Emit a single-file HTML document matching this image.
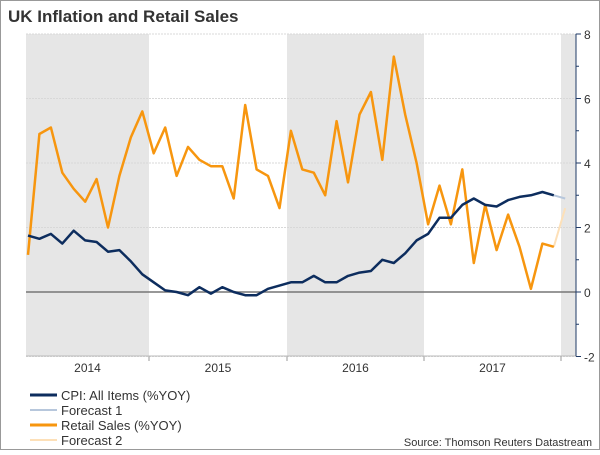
<!DOCTYPE html>
<html><head><meta charset="utf-8"><style>
body{margin:0;background:#fff}
svg text{font-family:"Liberation Sans",sans-serif}
</style></head><body>
<svg width="600" height="450" xmlns="http://www.w3.org/2000/svg">
<rect x="0.5" y="0.5" width="599" height="449" fill="#fff" stroke="#999"/>
<text x="8" y="22" font-size="17" font-weight="bold" fill="#333">UK Inflation and Retail Sales</text>
<g id="shades"></g>
<g id="grid"></g>
<g id="axis"></g>
<g id="series"></g>
<g>
<line x1="30" y1="395" x2="57" y2="395" stroke="#0d2d5e" stroke-width="3"/>
<text x="61" y="400" font-size="13" fill="#333">CPI: All Items (%YOY)</text>
<line x1="30" y1="410" x2="57" y2="410" stroke="#b7c7dc" stroke-width="2"/>
<text x="61" y="415" font-size="13" fill="#333">Forecast 1</text>
<line x1="30" y1="425" x2="57" y2="425" stroke="#f7960f" stroke-width="3"/>
<text x="61" y="430" font-size="13" fill="#333">Retail Sales (%YOY)</text>
<line x1="30" y1="440" x2="57" y2="440" stroke="#fde0b8" stroke-width="2"/>
<text x="61" y="445" font-size="13" fill="#333">Forecast 2</text>
</g>
<text x="592" y="446" font-size="11" fill="#333" text-anchor="end">Source: Thomson Reuters Datastream</text>
</svg>
<script>
const cpi=[1.75,1.65,1.8,1.5,1.9,1.6,1.55,1.25,1.3,0.95,0.55,0.3,0.05,0.0,-0.1,0.15,-0.05,0.15,0.0,-0.1,-0.1,0.1,0.2,0.3,0.3,0.5,0.3,0.3,0.5,0.6,0.65,1.0,0.9,1.2,1.6,1.8,2.3,2.3,2.7,2.9,2.7,2.65,2.85,2.95,3.0,3.1,3.0];
const cpiForecast=[2.9];
const retail=[1.15,4.9,5.1,3.7,3.2,2.8,3.5,2.0,3.6,4.8,5.6,4.3,5.1,3.6,4.5,4.1,3.9,3.9,2.9,5.8,3.8,3.6,2.6,5.0,3.8,3.7,3.0,5.3,3.4,5.5,6.2,4.1,7.3,5.5,4.0,2.1,3.3,2.1,3.8,0.9,2.7,1.3,2.4,1.4,0.1,1.5,1.4];
const retailForecast=[2.6];
const yTicks=[-2,0,2,4,6,8];
const years=["2014","2015","2016","2017"];
const NS="http://www.w3.org/2000/svg";
const xOf=i=>28+i*11.43;
const yOf=v=>292-v*32.25;
function mk(tag,attrs,parent){const e=document.createElementNS(NS,tag);for(const k in attrs)e.setAttribute(k,attrs[k]);document.getElementById(parent).appendChild(e);return e;}
const bandX=[26,149,287,424,561,576];
for(let i=0;i<bandX.length-1;i++){
  if(i%2===0){const r=mk('rect',{x:bandX[i],y:34,width:bandX[i+1]-bandX[i],height:322,fill:'#e6e6e6'},'shades');
  
  }
}
years.forEach((y,i)=>{
  const cx=(bandX[i]+bandX[i+1])/2;
  const t=mk('text',{x:cx,y:372,'font-size':12,fill:'#333','text-anchor':'middle'},'axis');t.textContent=y;
  
  
  const tk=mk('line',{x1:bandX[i+1],x2:bandX[i+1],y1:356,y2:361,stroke:'#999'},'axis');
  
  
});
mk('line',{x1:26,x2:576,y1:356,y2:356,stroke:'#bbb'},'axis');
yTicks.forEach(v=>{
  const y=yOf(v);
  const g=mk('line',{x1:26,x2:576,y1:y,y2:y,stroke:v===0?'#777':'#d8d8d8','stroke-width':v===0?1.5:1,'stroke-dasharray':v===0?'':'2,1'},'grid');
  
  
  const t=mk('text',{x:584,y:y+5,'font-size':12,fill:'#333'},'axis');t.textContent=v;
  
  
  mk('line',{x1:576,x2:581,y1:y,y2:y,stroke:'#1f3a66'},'axis');
  if(v<8)mk('line',{x1:576,x2:579,y1:yOf(v+1),y2:yOf(v+1),stroke:'#1f3a66'},'axis');
});
mk('line',{x1:576,x2:576,y1:34,y2:356,stroke:'#1f3a66'},'axis');
function path(arr,off){return arr.map((v,i)=>(i?'L':'M')+xOf(i+off).toFixed(1)+' '+yOf(v).toFixed(1)).join(' ');}
const rf=mk('path',{d:path([retail[retail.length-1]].concat(retailForecast),retail.length-1),fill:'none',stroke:'#fde0b8','stroke-width':2},'series');


const cf=mk('path',{d:path([cpi[cpi.length-1]].concat(cpiForecast),cpi.length-1),fill:'none',stroke:'#b7c7dc','stroke-width':2},'series');


const rl=mk('path',{d:path(retail,0),fill:'none',stroke:'#f7960f','stroke-width':2.5,'stroke-linejoin':'round'},'series');


const cl=mk('path',{d:path(cpi,0),fill:'none',stroke:'#0d2d5e','stroke-width':2.5,'stroke-linejoin':'round'},'series');


</script>
</body></html>
